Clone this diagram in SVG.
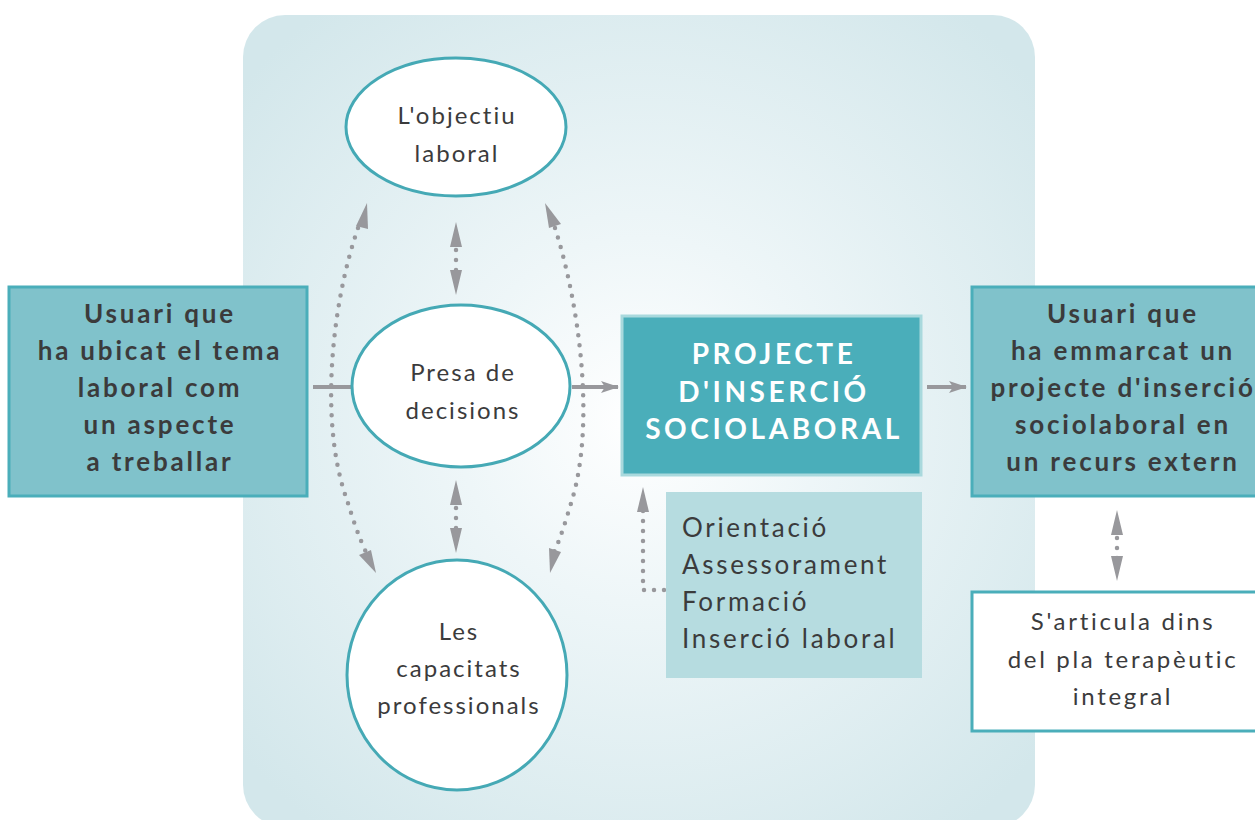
<svg xmlns="http://www.w3.org/2000/svg" width="1255" height="820" viewBox="0 0 1255 820">
<defs>
<radialGradient id="bg" cx="640" cy="420" r="520" gradientUnits="userSpaceOnUse">
<stop offset="0" stop-color="#ffffff"/>
<stop offset="0.35" stop-color="#eef6f8"/>
<stop offset="1" stop-color="#d3e7eb"/>
</radialGradient>
<marker id="ah" markerWidth="18" markerHeight="14" refX="17" refY="7" orient="auto" markerUnits="userSpaceOnUse" viewBox="0 0 18 14">
<path d="M0,1 L18,7 L0,13 L4,7 Z" fill="#98989c"/>
</marker>
</defs>
<style>
.ell{fill:#ffffff;stroke:#45a9b5;stroke-width:3}
.box1{fill:#80c2cb;stroke:#4aaeba;stroke-width:3}
.core{fill:#4aaeba;stroke:#a9d9dd;stroke-width:3}
.lst{fill:#b6dce0}
.wbox{fill:#ffffff;stroke:#4aaeba;stroke-width:3}
.t{font-family:Lato,"Liberation Sans",sans-serif;fill:#3b3b3c;text-anchor:middle}
.tb{font-family:Lato,"Liberation Sans",sans-serif;font-weight:bold;fill:#3b3b3c;text-anchor:middle;font-size:26px;letter-spacing:2.8px}
.tw{font-family:Lato,"Liberation Sans",sans-serif;font-weight:bold;fill:#ffffff;text-anchor:middle;font-size:28px;letter-spacing:3.6px}
.te{font-size:24px;letter-spacing:2px}
.tl{text-anchor:start;font-size:26px;letter-spacing:2.7px}
.tp{font-size:24px;letter-spacing:2.7px}
.solid{stroke:#98989c;stroke-width:4;fill:none}
.dot{stroke:#98989c;stroke-width:4.5;fill:none;stroke-linecap:round;stroke-dasharray:0 10}
.head{fill:#98989c}
</style>
<rect x="243" y="15" width="792" height="812" rx="42" fill="url(#bg)"/>
<g id="connectors">
<line class="solid" x1="313" y1="387" x2="352" y2="387"/>
<line class="solid" x1="572" y1="387" x2="618" y2="387" marker-end="url(#ah)"/>
<line class="solid" x1="927" y1="387" x2="966" y2="387" marker-end="url(#ah)"/>
<path class="dot" d="M456,240 L456,278"/>
<path class="head" d="M456,222 L462,247 L450,247 Z M456,295 L462,270 L450,270 Z"/>
<path class="dot" d="M456,498 L456,536"/>
<path class="head" d="M456,480 L462,505 L450,505 Z M456,553 L462,528 L450,528 Z"/>
<path class="dot" d="M1117,528 L1117,562"/>
<path class="head" d="M1117,510 L1123,535 L1111,535 Z M1117,581 L1123,556 L1111,556 Z"/>
<path class="dot" d="M358,228 C333,300 318,420 347,500 C353,520 360,540 366,552"/>
<path class="head" d="M367,203 L368,229 L356,226 Z"/>
<path class="head" d="M376,573 L359,555 L371,550 Z"/>
<path class="dot" d="M555,228 C578,300 596,420 572,500 C566,520 560,540 554,552"/>
<path class="head" d="M545,203 L561,224 L549,228 Z"/>
<path class="head" d="M550,573 L549,548 L561,552 Z"/>
<path class="dot" d="M664,590 L643,590 L643,510"/>
<path class="head" d="M643,487 L649,512 L637,512 Z"/>
</g>
<g id="node-objectiu">
<ellipse class="ell" cx="456" cy="127" rx="110" ry="69"/>
<text class="t te" x="457" y="124">L'objectiu</text>
<text class="t te" x="457" y="162">laboral</text>
</g>
<g id="node-presa">
<ellipse class="ell" cx="461" cy="386" rx="109" ry="81"/>
<text class="t te" x="463" y="381">Presa de</text>
<text class="t te" x="463" y="419">decisions</text>
</g>
<g id="node-capacitats">
<ellipse class="ell" cx="457" cy="675" rx="110" ry="115"/>
<text class="t te" x="459" y="640">Les</text>
<text class="t te" x="459" y="677">capacitats</text>
<text class="t te" x="459" y="714">professionals</text>
</g>
<g id="node-usuari-left">
<rect class="box1" x="9" y="287" width="298" height="209"/>
<text class="tb" x="160" y="323">Usuari que</text>
<text class="tb" x="160" y="360">ha ubicat el tema</text>
<text class="tb" x="160" y="397">laboral com</text>
<text class="tb" x="160" y="434">un aspecte</text>
<text class="tb" x="160" y="471">a treballar</text>
</g>
<g id="node-projecte">
<rect class="core" x="622" y="316" width="299" height="159"/>
<text class="tw" x="774" y="364">PROJECTE</text>
<text class="tw" x="774" y="402">D'INSERCIÓ</text>
<text class="tw" x="774" y="439">SOCIOLABORAL</text>
</g>
<g id="node-llista">
<rect class="lst" x="666" y="492" width="256" height="186"/>
<text class="t tl" x="682" y="537">Orientació</text>
<text class="t tl" x="682" y="574">Assessorament</text>
<text class="t tl" x="682" y="611">Formació</text>
<text class="t tl" x="682" y="648">Inserció laboral</text>
</g>
<g id="node-usuari-right">
<rect class="box1" x="972" y="287" width="290" height="209"/>
<text class="tb" x="1123" y="323">Usuari que</text>
<text class="tb" x="1123" y="360">ha emmarcat un</text>
<text class="tb" x="1123" y="397">projecte d'inserció</text>
<text class="tb" x="1123" y="434">sociolaboral en</text>
<text class="tb" x="1123" y="471">un recurs extern</text>
</g>
<g id="node-pla">
<rect class="wbox" x="972" y="592" width="290" height="139"/>
<text class="t tp" x="1123" y="630">S'articula dins</text>
<text class="t tp" x="1123" y="668">del pla terapèutic</text>
<text class="t tp" x="1123" y="705">integral</text>
</g>
</svg>
